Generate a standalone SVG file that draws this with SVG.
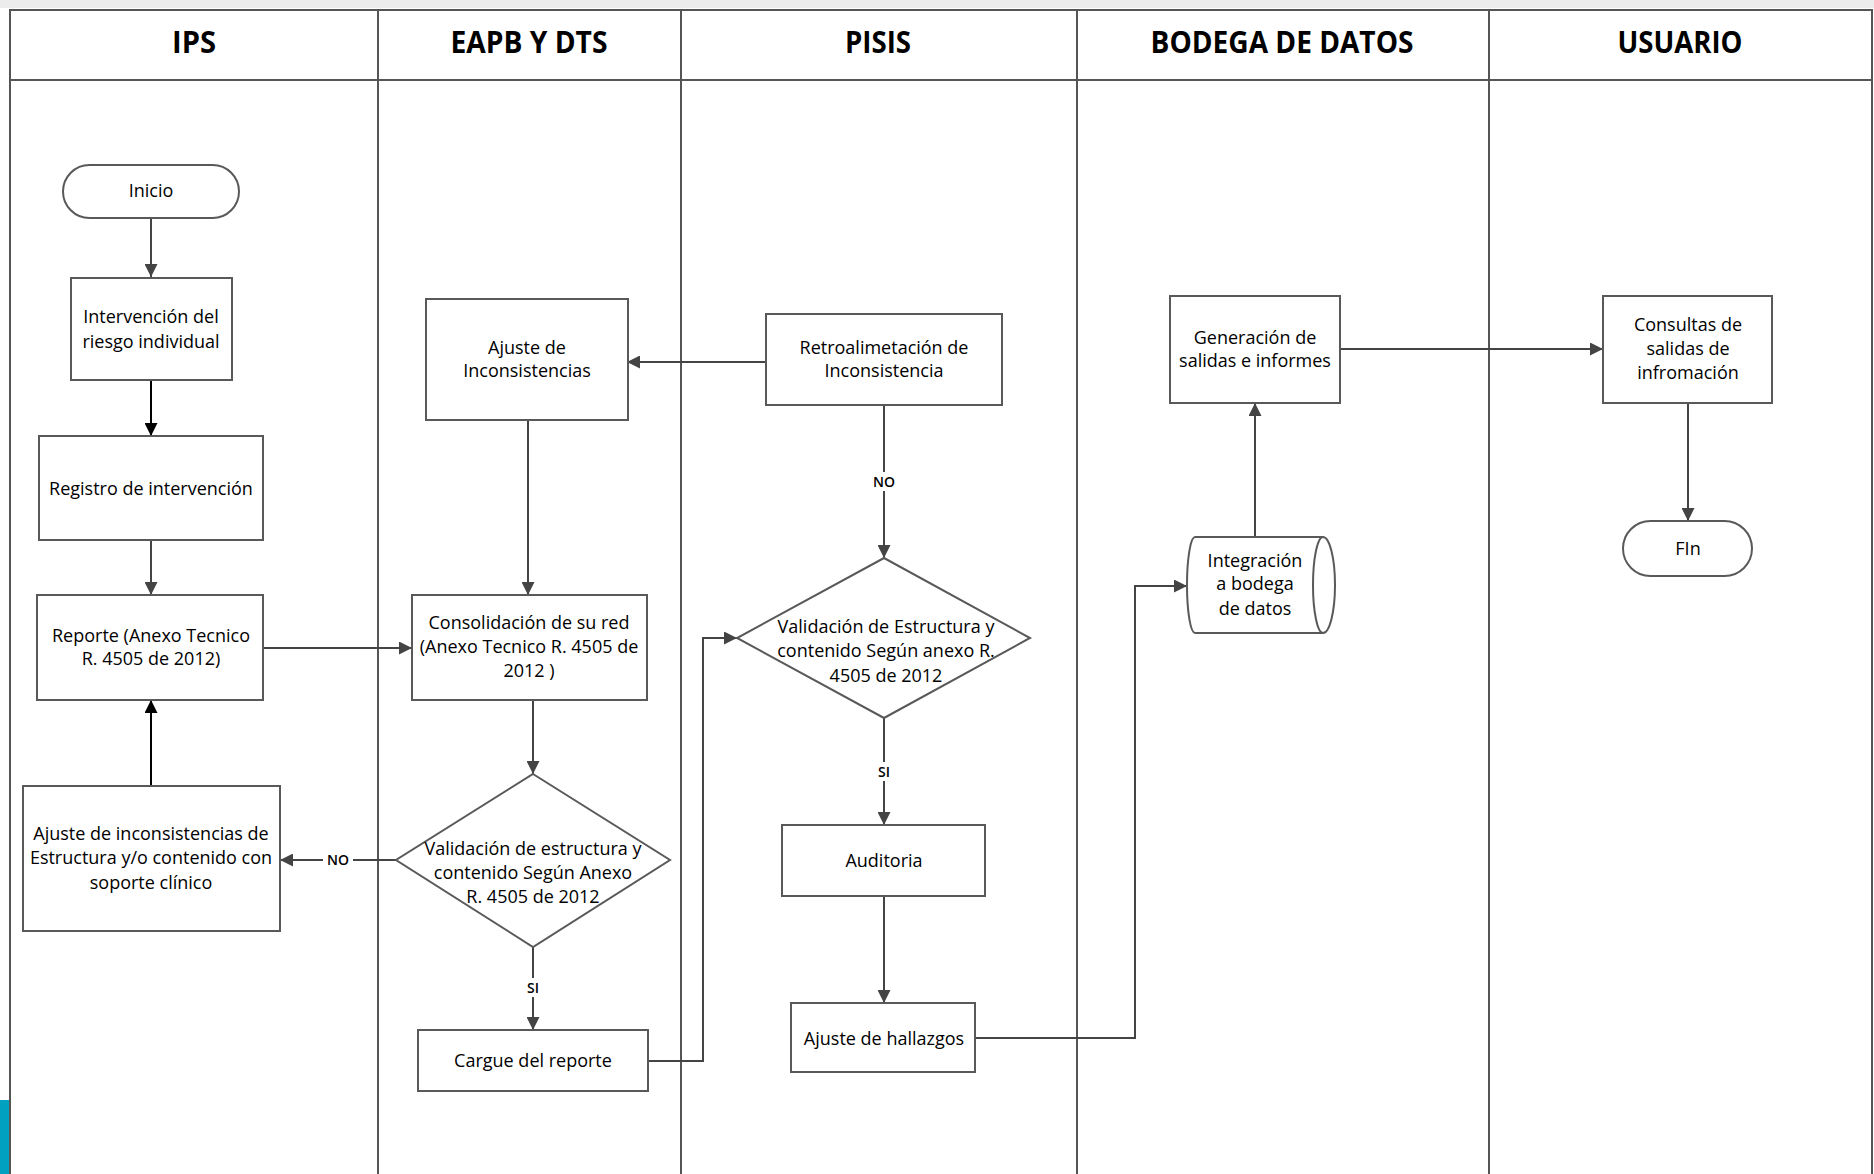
<svg xmlns="http://www.w3.org/2000/svg" width="1874" height="1174" viewBox="0 0 1874 1174">
<defs>
<style>
.lane{stroke:#555;stroke-width:2;fill:none}
.box{fill:#fff;stroke:#595959;stroke-width:2}
.t{font-family:"Open Sans","Noto Sans",sans-serif;font-size:18px;fill:#000;text-anchor:middle}
.h{font-family:"Open Sans","Noto Sans",sans-serif;font-size:30px;font-weight:700;fill:#000;text-anchor:middle}
.lbl{font-family:"Open Sans","Noto Sans",sans-serif;font-size:14px;font-weight:600;fill:#000;text-anchor:middle}
.c{stroke:#444;stroke-width:2;fill:none;marker-end:url(#ah)}
.cb{stroke:#000;stroke-width:2;fill:none;marker-end:url(#ahb)}
</style>
<marker id="ah" viewBox="0 0 12 12" refX="12" refY="6" markerWidth="13" markerHeight="13" markerUnits="userSpaceOnUse" orient="auto"><path d="M0,0 L12,6 L0,12 z" fill="#444"/></marker>
<marker id="ahb" viewBox="0 0 12 12" refX="12" refY="6" markerWidth="13" markerHeight="13" markerUnits="userSpaceOnUse" orient="auto"><path d="M0,0 L12,6 L0,12 z" fill="#000"/></marker>
</defs>
<rect x="0" y="0" width="1874" height="1174" fill="#fff"/>
<rect x="0" y="0" width="1874" height="8" fill="#ececec"/>
<rect x="0" y="1100" width="10" height="74" fill="#00a0c0"/>
<g id="lanes">
<path class="lane" d="M10,1174 V10 H1872 V1174"/>
<path class="lane" d="M10,80 H1872"/>
<path class="lane" d="M378,10 V1174 M681,10 V1174 M1077,10 V1174 M1489,10 V1174"/>
<text class="h" x="194" y="53" textLength="44" lengthAdjust="spacingAndGlyphs">IPS</text>
<text class="h" x="529" y="53" textLength="157" lengthAdjust="spacingAndGlyphs">EAPB Y DTS</text>
<text class="h" x="878" y="53" textLength="66" lengthAdjust="spacingAndGlyphs">PISIS</text>
<text class="h" x="1282" y="53" textLength="263" lengthAdjust="spacingAndGlyphs">BODEGA DE DATOS</text>
<text class="h" x="1680" y="53" textLength="125" lengthAdjust="spacingAndGlyphs">USUARIO</text>
</g>
<g id="connectors">
<path class="c" d="M151,218 V277"/>
<path class="cb" d="M151,380 V436"/>
<path class="c" d="M151,540 V595"/>
<path class="cb" d="M151,786 V700"/>
<path class="c" d="M263,648 H412"/>
<path class="c" d="M533,700 V774"/>
<path class="c" d="M396,860 H280"/>
<path class="c" d="M533,947 V1030"/>
<path class="c" d="M648,1061 H703 V638 H737"/>
<path class="c" d="M766,362 H627"/>
<path class="c" d="M528,420 V595"/>
<path class="c" d="M884,405 V558"/>
<path class="c" d="M884,718 V825"/>
<path class="c" d="M884,896 V1003"/>
<path class="c" d="M975,1038 H1135 V586 H1187"/>
<path class="c" d="M1255,537 V403"/>
<path class="c" d="M1340,349 H1603"/>
<path class="c" d="M1688,403 V521"/>
<rect x="323" y="850" width="30" height="19" fill="#fff"/>
<text class="lbl" x="338" y="865">NO</text>
<rect x="522" y="978" width="22" height="19" fill="#fff"/>
<text class="lbl" x="533" y="993">SI</text>
<rect x="869" y="472" width="30" height="19" fill="#fff"/>
<text class="lbl" x="884" y="487">NO</text>
<rect x="873" y="762" width="22" height="19" fill="#fff"/>
<text class="lbl" x="884" y="777">SI</text>
</g>
<g id="inicio"><rect class="box" x="63" y="165" width="176" height="53" rx="26.5"/><text class="t" x="151" y="197">Inicio</text></g>
<g id="intervencion"><rect class="box" x="71" y="278" width="161" height="102"/><text class="t" x="151" y="323">Intervención del</text><text class="t" x="151" y="348">riesgo individual</text></g>
<g id="registro"><rect class="box" x="39" y="436" width="224" height="104"/><text class="t" x="151" y="495">Registro de intervención</text></g>
<g id="reporte"><rect class="box" x="37" y="595" width="226" height="105"/><text class="t" x="151" y="642">Reporte (Anexo Tecnico</text><text class="t" x="151" y="665">R. 4505 de 2012)</text></g>
<g id="ajuste-ips"><rect class="box" x="23" y="786" width="257" height="145"/><text class="t" x="151" y="840">Ajuste de inconsistencias de</text><text class="t" x="151" y="864">Estructura y/o contenido con</text><text class="t" x="151" y="889">soporte clínico</text></g>
<g id="ajuste-inconsistencias"><rect class="box" x="426" y="299" width="202" height="121"/><text class="t" x="527" y="354">Ajuste de</text><text class="t" x="527" y="377">Inconsistencias</text></g>
<g id="consolidacion"><rect class="box" x="412" y="595" width="235" height="105"/><text class="t" x="529" y="629">Consolidación de su red</text><text class="t" x="529" y="653">(Anexo Tecnico R. 4505 de</text><text class="t" x="529" y="677">2012 )</text></g>
<g id="validacion-eapb"><polygon class="box" points="533,774 670,860 533,947 396,860"/><text class="t" x="533" y="855">Validación de estructura y</text><text class="t" x="533" y="879">contenido Según Anexo</text><text class="t" x="533" y="903">R. 4505 de 2012</text></g>
<g id="cargue"><rect class="box" x="418" y="1030" width="230" height="61"/><text class="t" x="533" y="1067">Cargue del reporte</text></g>
<g id="retroalimentacion"><rect class="box" x="766" y="314" width="236" height="91"/><text class="t" x="884" y="354">Retroalimetación de</text><text class="t" x="884" y="377">Inconsistencia</text></g>
<g id="validacion-pisis"><polygon class="box" points="884,558 1030,638 884,718 737,638"/><text class="t" x="886" y="633">Validación de Estructura y</text><text class="t" x="886" y="657">contenido Según anexo R.</text><text class="t" x="886" y="682">4505 de 2012</text></g>
<g id="auditoria"><rect class="box" x="782" y="825" width="203" height="71"/><text class="t" x="884" y="867">Auditoria</text></g>
<g id="ajuste-hallazgos"><rect class="box" x="791" y="1003" width="184" height="69"/><text class="t" x="884" y="1045">Ajuste de hallazgos</text></g>
<g id="integracion"><path class="box" d="M1195,537 H1323 A12,48 0 0 1 1323,633 H1195 A8,48 0 0 1 1195,537 Z"/><path class="box" d="M1323,537 A10,48 0 0 0 1323,633" fill="none"/><text class="t" x="1255" y="567">Integración</text><text class="t" x="1255" y="590">a bodega</text><text class="t" x="1255" y="615">de datos</text></g>
<g id="generacion"><rect class="box" x="1170" y="296" width="170" height="107"/><text class="t" x="1255" y="344">Generación de</text><text class="t" x="1255" y="367">salidas e informes</text></g>
<g id="consultas"><rect class="box" x="1603" y="296" width="169" height="107"/><text class="t" x="1688" y="331">Consultas de</text><text class="t" x="1688" y="355">salidas de</text><text class="t" x="1688" y="379">infromación</text></g>
<g id="fin"><rect class="box" x="1623" y="521" width="129" height="55" rx="27.5"/><text class="t" x="1688" y="555">FIn</text></g>
</svg>
